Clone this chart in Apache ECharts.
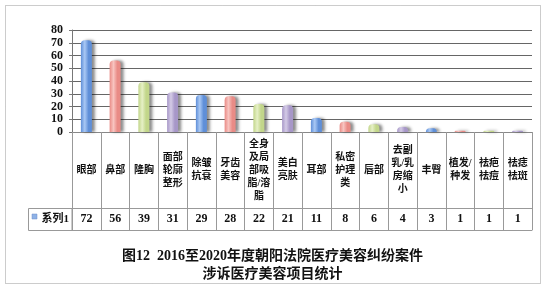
<!DOCTYPE html>
<html>
<head>
<meta charset="utf-8">
<script src="https://cdn.jsdelivr.net/npm/echarts@6/dist/echarts.min.js"></script>
<style>
html, body { margin: 0; padding: 0; background: #fff; }
#chart { width: 545px; height: 292px; }
</style>
</head>
<body>
<div id="chart"></div>
<script>
// 项目名称
var categories = ['眼部', '鼻部', '隆胸', '面部轮廓整形', '除皱抗衰', '牙齿美容', '全身及局部吸脂/溶脂', '美白亮肤',
    '耳部', '私密护理类', '唇部', '去副乳/乳房缩小', '丰臀', '植发/种发', '祛疤祛痘', '祛痣祛斑'];
// 系列1
var values = [72, 56, 39, 31, 29, 28, 22, 21, 11, 8, 6, 4, 3, 1, 1, 1];
var yTicks = [0, 10, 20, 30, 40, 50, 60, 70, 80];
var seriesName = '系列1';
var titleLines = ['图12  2016至2020年度朝阳法院医疗美容纠纷案件', '涉诉医疗美容项目统计'];

var palette = [
    ['#5f8fd8', '#a9c8f4'],
    ['#e98b86', '#f8c4c0'],
    ['#c2d68a', '#e6f0c6'],
    ['#a797c8', '#d4cbe6']
];

// 每行两个汉字, 斜杠跟在前面
function wrap(s) {
    var lines = [], cur = '', n = 0;
    for (var i = 0; i < s.length; i++) {
        var c = s[i];
        if (c === '/') { cur += c; continue; }
        if (n === 2) { lines.push(cur); cur = ''; n = 0; }
        cur += c; n++;
    }
    if (cur) lines.push(cur);
    return lines.join('\n');
}

var font = '"Liberation Serif", "Noto Sans CJK SC", serif';

var myChart = echarts.init(document.getElementById('chart'));

var option = {
    animation: false,
    grid: { left: 72, right: 13, top: 30, bottom: 160 },
    xAxis: [
        {
            type: 'category',
            data: categories,
            position: 'bottom',
            axisLine: { show: true, lineStyle: { color: '#888', width: 1 } },
            axisTick: { show: true, length: 98, lineStyle: { color: '#999' } },
            axisLabel: {
                interval: 0,
                margin: 38,
                verticalAlign: 'middle',
                lineHeight: 13,
                fontSize: 10,
                fontWeight: 'bold',
                color: '#111',
                fontFamily: font,
                formatter: function (v) { return wrap(v); }
            }
        },
        {
            type: 'category',
            data: values.map(String),
            position: 'bottom',
            offset: 76,
            name: seriesName,
            nameLocation: 'start',
            nameGap: 3,
            nameTextStyle: {
                fontSize: 11,
                fontWeight: 'bold',
                color: '#111',
                fontFamily: font,
                verticalAlign: 'top',
                padding: [6, 0, 0, 0]
            },
            axisLine: { show: true, lineStyle: { color: '#999', width: 1 } },
            axisTick: { show: false },
            axisLabel: {
                interval: 0,
                margin: 11,
                verticalAlign: 'middle',
                fontSize: 12,
                fontWeight: 'bold',
                color: '#111',
                fontFamily: font
            }
        },
        {
            type: 'category',
            data: values.map(String),
            position: 'bottom',
            offset: 98,
            axisLine: { show: true, lineStyle: { color: '#999', width: 1 } },
            axisTick: { show: false },
            axisLabel: { show: false }
        }
    ],
    yAxis: {
        type: 'value',
        min: yTicks[0],
        max: yTicks[yTicks.length - 1],
        interval: 10,
        axisLine: { show: true, lineStyle: { color: '#777' } },
        axisTick: { show: true, length: 3, lineStyle: { color: '#777' }, customValues: yTicks },
        splitLine: { showMinLine: true, showMaxLine: true, lineStyle: { color: '#666', width: 1 } },
        axisLabel: {
            customValues: yTicks,
            margin: 9,
            fontSize: 12,
            lineHeight: 10,
            fontWeight: 'bold',
            color: '#111',
            fontFamily: font,
            showMinLabel: true,
            showMaxLabel: true,
            hideOverlap: false
        }
    },
    graphic: [
        {
            type: 'rect',
            shape: { x: 5.5, y: 5.5, width: 535, height: 278 },
            style: { fill: 'none', stroke: '#999', lineWidth: 1, lineDash: [1, 1] }
        },
        {
            type: 'rect',
            shape: { x: 28.5, y: 208.5, width: 43.5, height: 22 },
            style: { fill: 'none', stroke: '#999', lineWidth: 1 }
        },
        {
            type: 'rect',
            shape: { x: 32, y: 214, width: 5, height: 5 },
            style: { fill: '#8fb2e6', stroke: '#6d8fc8', lineWidth: 0.5 }
        },
        {
            type: 'text',
            left: 'center', top: 249,
            style: { text: titleLines[0], font: 'bold 14px ' + font, fill: '#111' }
        },
        {
            type: 'text',
            left: 'center', top: 267,
            style: { text: titleLines[1], font: 'bold 14px ' + font, fill: '#111' }
        }
    ],
    series: [{
        name: seriesName,
        type: 'bar',
        barWidth: 11,
        data: values.map(function (v, i) {
            var c = palette[i % palette.length];
            return {
                value: v,
                itemStyle: {
                    color: new echarts.graphic.LinearGradient(0, 0, 1, 0, [
                        { offset: 0, color: c[0] },
                        { offset: 0.35, color: c[1] },
                        { offset: 0.7, color: c[0] },
                        { offset: 1, color: c[0] }
                    ]),
                    borderRadius: [4, 4, 0, 0],
                    shadowColor: 'rgba(0,0,0,0.45)',
                    shadowBlur: 3,
                    shadowOffsetX: 3,
                    shadowOffsetY: 0
                }
            };
        })
    }]
};

myChart.setOption(option);
</script>
</body>
</html>
